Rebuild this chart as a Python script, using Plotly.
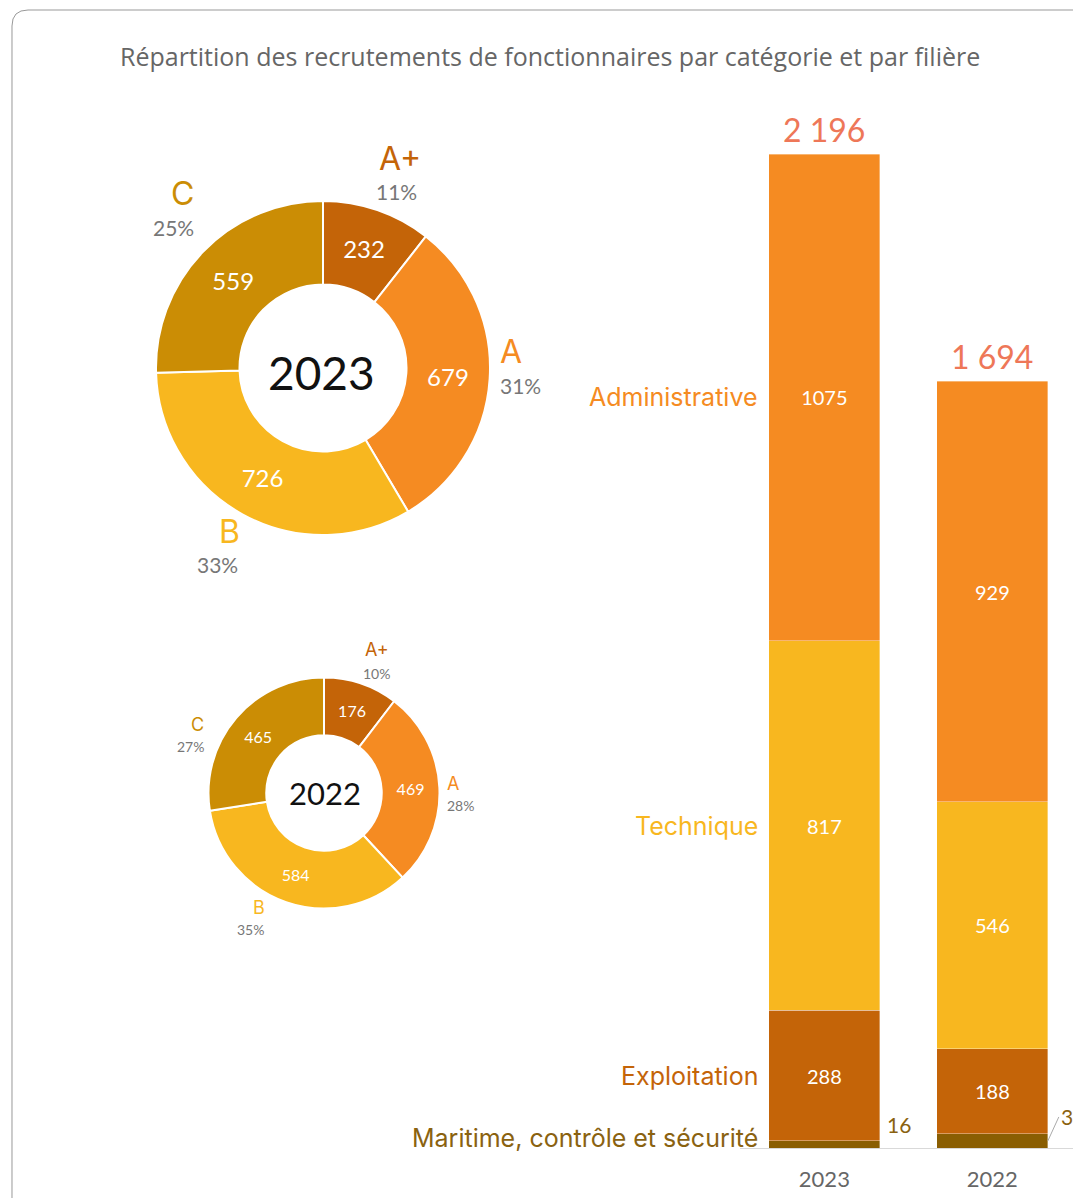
import plotly.graph_objects as go

# ---------------- data ----------------
cat_labels = ["A+", "A", "B", "C"]
donut_2023 = [232, 679, 726, 559]
donut_2022 = [176, 469, 584, 465]
pct_2023 = ["11%", "31%", "33%", "25%"]
pct_2022 = ["10%", "28%", "35%", "27%"]

bar_years = ["2023", "2022"]
filieres = ["Maritime, contrôle et sécurité", "Exploitation", "Technique", "Administrative"]
maritime = [16, 31]
exploitation = [288, 188]
technique = [817, 546]
administrative = [1075, 929]
totals = [2196, 1694]

# ---------------- styles ----------------
W, H = 1073, 1198
NUMF = "Lato"
WORDF = "Inter"
C_ORANGE = "#F58B22"
C_YELLOW = "#F8B71F"
C_RUST = "#C46408"
C_GOLD = "#CB8D05"
C_OLIVE = "#8A5E02"
C_OLIVE_TXT = "#8A6210"
C_TOTAL = "#EE7758"
C_GREY = "#777777"

donut_colors = [C_RUST, C_ORANGE, C_YELLOW, C_GOLD]
fil_colors = [C_OLIVE, C_RUST, C_YELLOW, C_ORANGE]
fil_label_colors = [C_OLIVE_TXT, C_RUST, C_YELLOW, C_ORANGE]


def px(x, y):
    """screen pixel -> paper coords"""
    return x / W, 1 - y / H


fig = go.Figure()

# ---------------- donuts ----------------
def add_donut(values, x0, x1, y0, y1, fsize):
    dx0, dy1 = px(x0, y0)
    dx1, dy0 = px(x1, y1)
    fig.add_trace(go.Pie(
        labels=cat_labels, values=values, hole=0.5, sort=False,
        direction="clockwise", rotation=0,
        marker=dict(colors=donut_colors, line=dict(color="white", width=2)),
        textinfo="value", textposition="inside",
        insidetextorientation="horizontal",
        textfont=dict(family=NUMF, size=fsize, color="white"),
        domain=dict(x=[dx0, dx1], y=[dy0, dy1]),
        showlegend=False, hoverinfo="label+value+percent",
    ))

add_donut(donut_2023, 156, 490, 201, 535, 24)
add_donut(donut_2022, 208.5, 439.5, 677, 909, 16)

# ---------------- stacked bars ----------------
series = [maritime, exploitation, technique, administrative]
for name, vals, col in zip(filieres, series, fil_colors):
    is_mar = name.startswith("Maritime")
    fig.add_trace(go.Bar(
        x=[0, 1], y=vals, name=name, width=0.66,
        marker=dict(color=col, line=dict(color="rgba(255,255,255,0.6)", width=0.6)),
        text=[str(v) for v in vals],
        textposition="none" if is_mar else "inside",
        insidetextanchor="middle",
        textfont=dict(family=NUMF, size=20, color="white"),
        showlegend=False, xaxis="x", yaxis="y",
    ))

bx0, _ = px(740.37, 0)
_, yd0 = px(0, 1148)
_, yd1 = px(0, 100)
scale = 0.4526  # px per unit
ytop = (1148 - 100) / scale

fig.update_layout(
    width=W, height=H,
    margin=dict(l=0, r=0, t=0, b=0),
    paper_bgcolor="white", plot_bgcolor="white",
    barmode="stack",
    font=dict(family=NUMF),
    xaxis=dict(domain=[bx0, 1.0], range=[-0.5, 1.48],
               tickmode="array", tickvals=[0, 1], ticktext=bar_years,
               tickfont=dict(family=NUMF, size=22, color="#666666"),
               showgrid=False, zeroline=False, showline=True,
               linecolor="#d9d9d9", linewidth=1, ticks="",
               ticklabelstandoff=12, fixedrange=True),
    yaxis=dict(domain=[yd0, yd1], range=[0, ytop], visible=False,
               showgrid=False, zeroline=False, fixedrange=True),
)

ann = []

# totals on top of bars
for i, t in enumerate(totals):
    ann.append(dict(x=i, y=t, xref="x", yref="y", yshift=3,
                    text=f"{t:,}".replace(",", " "), showarrow=False,
                    xanchor="center", yanchor="bottom",
                    font=dict(family=NUMF, size=32, color=C_TOTAL)))

# filière labels left of 2023 bar
cum = 0
for name, vals, col in zip(filieres, series, fil_label_colors):
    mid = cum + vals[0] / 2
    cum += vals[0]
    ann.append(dict(x=-0.33, y=mid, xref="x", yref="y", xanchor="right",
                    yanchor="middle",
                    xshift=-9, yshift=6 if name.startswith("Maritime") else 0,
                    text=name, showarrow=False,
                    font=dict(family=WORDF, size=25, color=col)))

# small maritime values outside
ann.append(dict(x=0.33, y=maritime[0], xref="x", yref="y", xanchor="left",
                yanchor="bottom", xshift=5, yshift=2,
                text=str(maritime[0]), showarrow=False,
                font=dict(family=NUMF, size=21, color=C_OLIVE_TXT)))
ann.append(dict(x=1.33, y=maritime[1] / 2, xref="x", yref="y",
                ax=11, ay=-24, axref="pixel", ayref="pixel",
                xanchor="left", yanchor="middle", text=str(maritime[1]),
                showarrow=True,
                arrowhead=0, arrowwidth=1, arrowcolor="#aaaaaa", standoff=0,
                font=dict(family=NUMF, size=21, color=C_OLIVE_TXT)))

# donut centre labels
for (cx, cy, txt, fs) in [(321, 372, "2023", 46), (325, 793, "2022", 31)]:
    x, y = px(cx, cy)
    ann.append(dict(x=x, y=y, xref="paper", yref="paper", text=txt,
                    xanchor="center", yanchor="middle",
                    showarrow=False, font=dict(family=NUMF, size=fs, color="#111111")))

# donut outer labels
outer_2023 = [(400, 158, 396, 191), (511, 352, 520, 385), (229, 531, 217, 564), (182, 193, 173, 227)]
outer_2022 = [(377, 649, 376, 673), (453, 783, 460, 805), (259, 907, 250, 929), (197, 724, 190, 747)]
for pos, pcts, fs1, fs2 in [(outer_2023, pct_2023, 32, 21), (outer_2022, pct_2022, 18, 14)]:
    for (lx, ly, qx, qy), lab, pc, col in zip(pos, cat_labels, pcts, donut_colors):
        x, y = px(lx, ly)
        ann.append(dict(x=x, y=y, xref="paper", yref="paper", text=lab,
                        xanchor="center", yanchor="middle",
                        showarrow=False, font=dict(family=WORDF, size=fs1, color=col)))
        x, y = px(qx, qy)
        ann.append(dict(x=x, y=y, xref="paper", yref="paper", text=pc,
                        xanchor="center", yanchor="middle",
                        showarrow=False, font=dict(family=NUMF, size=fs2, color=C_GREY)))

# title
tx, ty = px(550, 56)
ann.append(dict(x=tx, y=ty, xref="paper", yref="paper",
                xanchor="center", yanchor="middle",
                text="Répartition des recrutements de fonctionnaires par catégorie et par filière",
                showarrow=False, font=dict(family="Open Sans", size=25, color="#666666")))

fig.update_layout(annotations=ann)

# card border (rounded top-left corner)
def P(x, y):
    a, b = px(x, y)
    return f"{a:.5f},{b:.5f}"

path = f"M {P(12, 1198)} L {P(12, 26)} Q {P(12, 10)} {P(28, 10)} L {P(1073, 10)}"
fig.add_shape(type="path", path=path, xref="paper", yref="paper",
              line=dict(color="#999999", width=1))

fig.write_html(
    "out.html",
    config={"displayModeBar": False},
    post_script="document.body.style.margin='0';document.body.style.overflow='hidden';",
)
